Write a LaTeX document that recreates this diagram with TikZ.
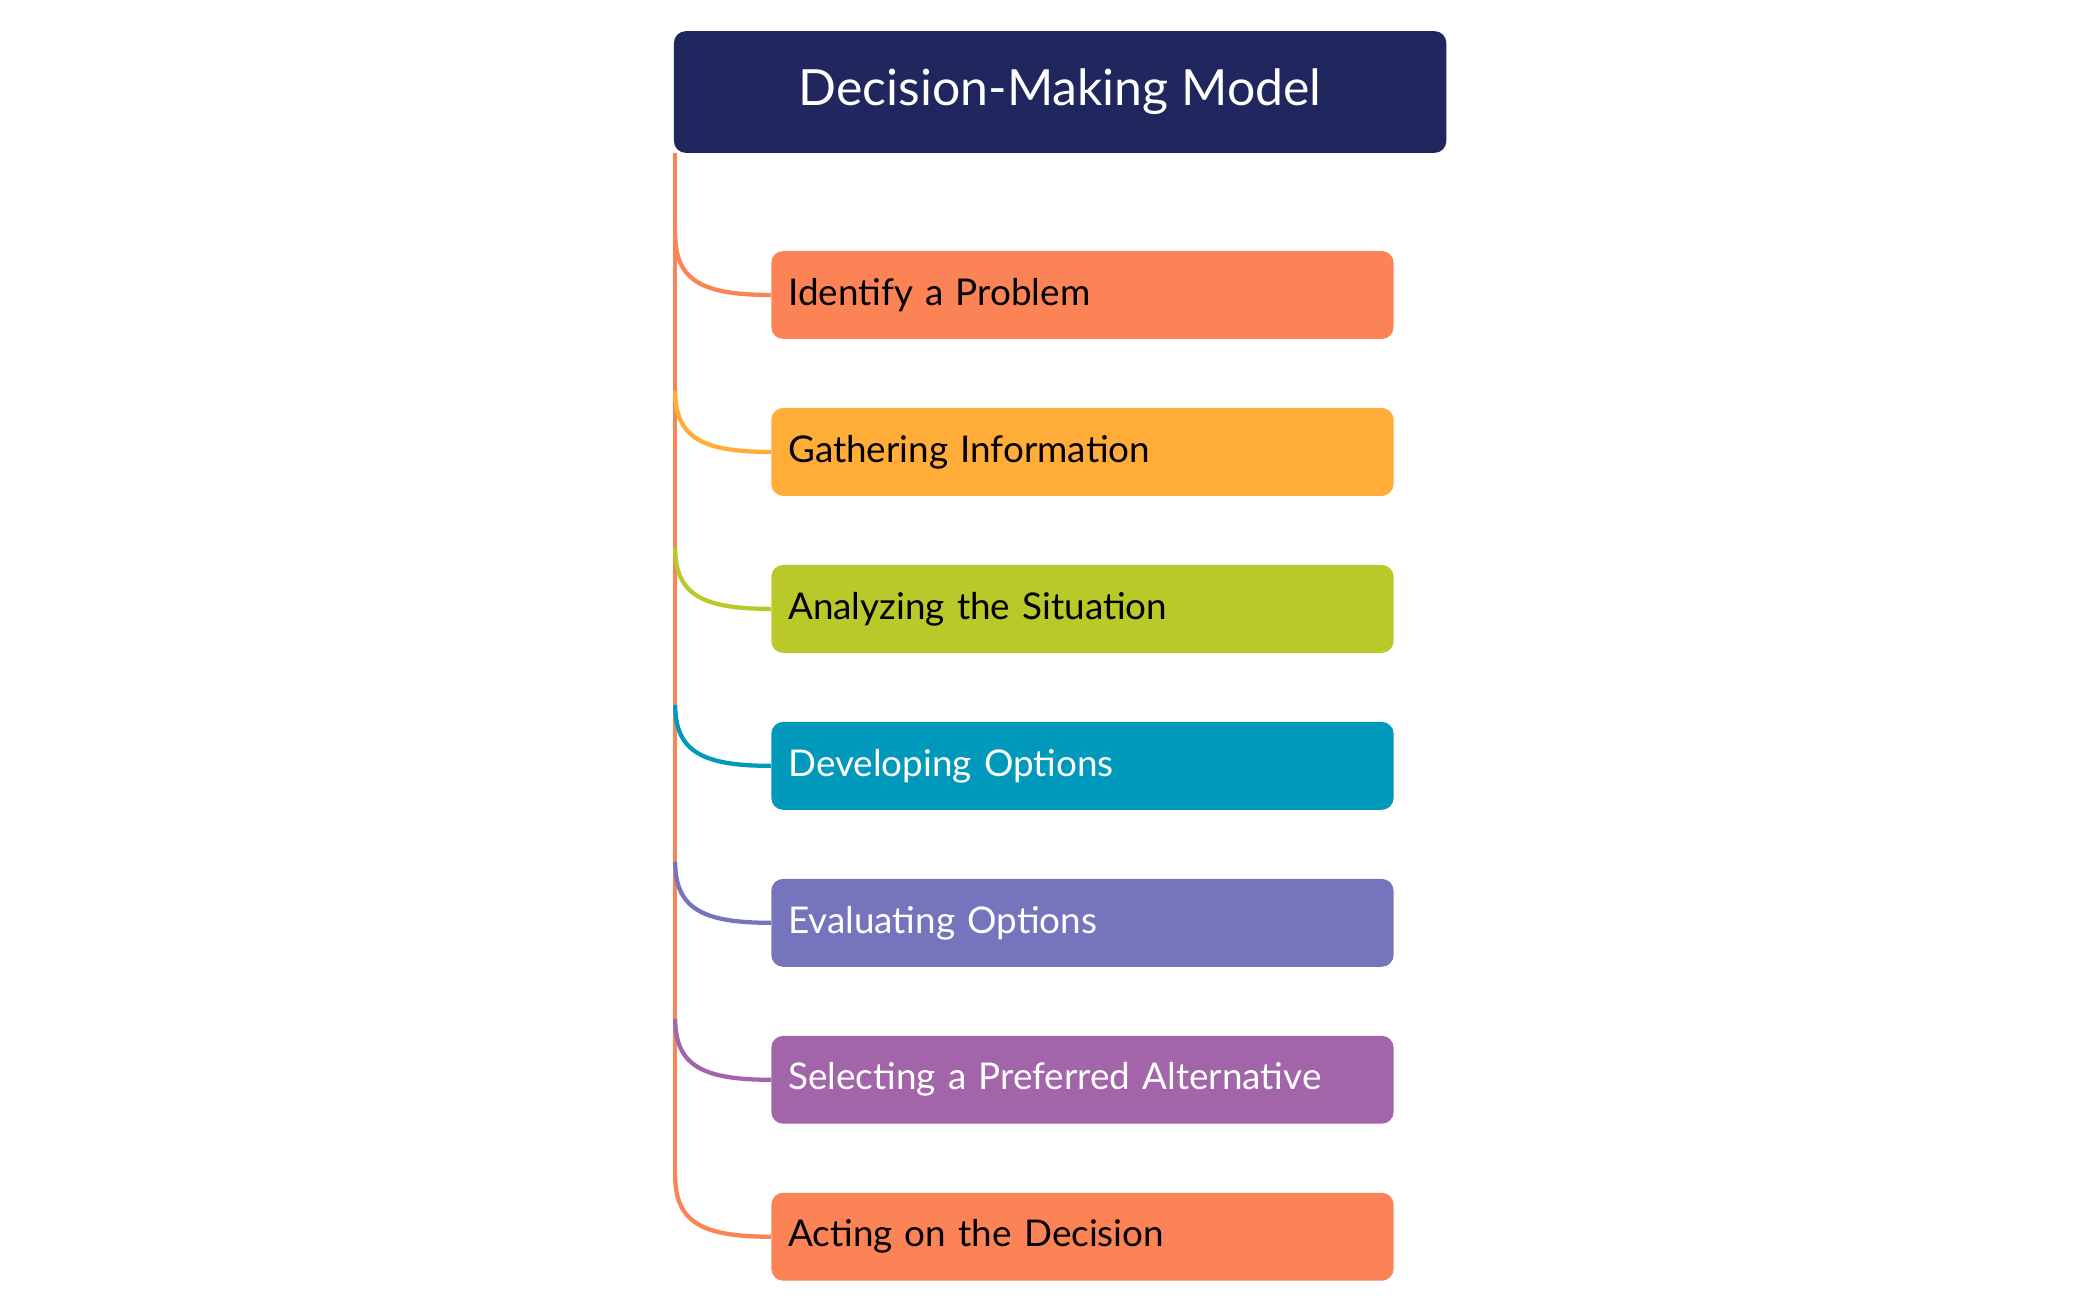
\documentclass[tikz,border=0pt]{standalone}
\usepackage{fontspec}
\setmainfont{Lato}
\definecolor{navy}{HTML}{20265E}
\definecolor{cA}{HTML}{FC8355}
\definecolor{cB}{HTML}{FFAC38}
\definecolor{cC}{HTML}{B8C929}
\definecolor{cD}{HTML}{0099BC}
\definecolor{cE}{HTML}{7674BD}
\definecolor{cF}{HTML}{A365AA}
\begin{document}
\begin{tikzpicture}[x=0.02cm,y=-0.02cm,
  itembox/.style={rounded corners=5pt,minimum width=9.2cm,minimum height=1.3cm,text width=8.7cm,align=left,inner sep=0pt,font=\fontsize{15.5}{18}\selectfont},
  link/.style={line width=1.8pt}]
\useasboundingbox (0,0) rectangle (1552,960);
\node[fill=navy,rounded corners=5pt,minimum width=11.42cm,minimum height=1.8cm,text=white,font=\fontsize{21}{25}\selectfont] (title) at (783.5,68) {Decision-Making Model};
\draw[cA,link] (499,113) -- (499,870);
\foreach \n/\y/\c/\t/\txt in {a/218/cA/black/Identify a Problem, b/334/cB/black/Gathering Information, c/450/cC/black/Analyzing the Situation, d/566/cD/white/Developing Options, e/682/cE/white/Evaluating Options, f/798/cF/white/Selecting a Preferred Alternative, g/914/cA/black/Acting on the Decision}{
  \node[itembox,fill=\c,text=\t] (\n) at (800,\y) {\txt};
  \coordinate (s\n) at (499,\y-45);
  \draw[\c,link] (s\n) .. controls (499,\y-10) and (520,\y) .. (\n.west);
}
\end{tikzpicture}
\end{document}
